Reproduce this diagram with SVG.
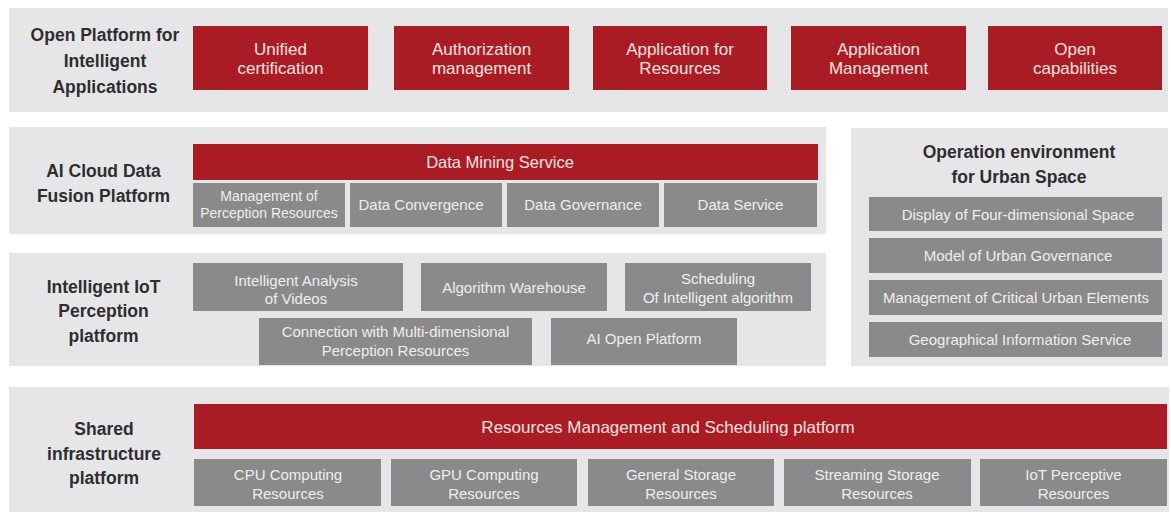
<svg xmlns="http://www.w3.org/2000/svg" width="1171" height="515" viewBox="0 0 1171 515">
<style>
.bg{fill:#ffffff}
.panel{fill:#e6e6e8}
.red{fill:#aa1c23}
.gray{fill:#8a8a8a}
.lbl{font-family:"Liberation Sans",Arial,sans-serif;font-weight:bold;font-size:17.5px;fill:#2e2e2e;text-anchor:middle}
.rt{font-family:"Liberation Sans",Arial,sans-serif;font-size:17px;fill:#f6e2e2;text-anchor:middle}
.gt{font-family:"Liberation Sans",Arial,sans-serif;font-size:15px;fill:#eeeeee;text-anchor:middle}
</style>
<rect class="bg" x="0" y="0" width="1171" height="515"/>

<g id="panel-open-platform">
<rect class="panel" x="9" y="8" width="1159" height="104"/>
<text class="lbl" x="105" y="41">Open Platform for</text>
<text class="lbl" x="105" y="67">Intelligent</text>
<text class="lbl" x="105" y="93">Applications</text>
</g>
<g id="n-unified"><rect class="red" x="193" y="26" width="175" height="64"/><text class="rt" x="280.5" y="55">Unified</text><text class="rt" x="280.5" y="74">certification</text></g>
<g id="n-authorization"><rect class="red" x="394" y="26" width="175" height="64"/><text class="rt" x="481.5" y="55">Authorization</text><text class="rt" x="481.5" y="74">management</text></g>
<g id="n-app-resources"><rect class="red" x="593" y="26" width="174" height="64"/><text class="rt" x="680" y="55">Application for</text><text class="rt" x="680" y="74">Resources</text></g>
<g id="n-app-management"><rect class="red" x="791" y="26" width="175" height="64"/><text class="rt" x="878.5" y="55">Application</text><text class="rt" x="878.5" y="74">Management</text></g>
<g id="n-open-capabilities"><rect class="red" x="988" y="26" width="174" height="64"/><text class="rt" x="1075" y="55">Open</text><text class="rt" x="1075" y="74">capabilities</text></g>

<g id="panel-ai-cloud">
<rect class="panel" x="9" y="127" width="817" height="107"/>
<text class="lbl" x="103.5" y="177">AI Cloud Data</text>
<text class="lbl" x="103.5" y="202">Fusion Platform</text>
</g>
<g id="n-data-mining"><rect class="red" x="193" y="144" width="625" height="36"/><text class="rt" x="500" y="168" style="font-size:16.5px">Data Mining Service</text></g>
<g id="n-mgmt-perception"><rect class="gray" x="193" y="183" width="152" height="44"/><text class="gt" x="269" y="201" style="font-size:14px">Management of</text><text class="gt" x="269" y="218" style="font-size:14px">Perception Resources</text></g>
<g id="n-data-convergence"><rect class="gray" x="350" y="183" width="152" height="44"/><text class="gt" x="421" y="210">Data Convergence</text></g>
<g id="n-data-governance"><rect class="gray" x="507" y="183" width="152" height="44"/><text class="gt" x="583" y="210">Data Governance</text></g>
<g id="n-data-service"><rect class="gray" x="664" y="183" width="153" height="44"/><text class="gt" x="740.5" y="210">Data Service</text></g>

<g id="panel-iot">
<rect class="panel" x="9" y="253" width="817" height="113"/>
<text class="lbl" x="103.5" y="292.5">Intelligent IoT</text>
<text class="lbl" x="103.5" y="317">Perception</text>
<text class="lbl" x="103.5" y="341.5">platform</text>
</g>
<g id="n-video-analysis"><rect class="gray" x="193" y="263" width="210" height="48"/><text class="gt" x="296" y="286">Intelligent Analysis</text><text class="gt" x="296" y="304">of Videos</text></g>
<g id="n-algorithm-warehouse"><rect class="gray" x="421" y="263" width="186" height="48"/><text class="gt" x="514" y="293">Algorithm Warehouse</text></g>
<g id="n-scheduling"><rect class="gray" x="625" y="263" width="186" height="48"/><text class="gt" x="718" y="284">Scheduling</text><text class="gt" x="718" y="303">Of Intelligent algorithm</text></g>
<g id="n-connection"><rect class="gray" x="259" y="318" width="273" height="47"/><text class="gt" x="395.5" y="337">Connection with Multi-dimensional</text><text class="gt" x="395.5" y="356">Perception Resources</text></g>
<g id="n-ai-open"><rect class="gray" x="551" y="318" width="186" height="47"/><text class="gt" x="644" y="344">AI Open Platform</text></g>

<g id="panel-urban">
<rect class="panel" x="851" y="128" width="317" height="238"/>
<text class="lbl" x="1019" y="158">Operation environment</text>
<text class="lbl" x="1019" y="183">for Urban Space</text>
</g>
<g id="n-display-4d"><rect class="gray" x="869" y="197" width="293" height="34"/><text class="gt" x="1018" y="219.5">Display of Four-dimensional Space</text></g>
<g id="n-urban-governance"><rect class="gray" x="869" y="238" width="293" height="35"/><text class="gt" x="1018" y="261">Model of Urban Governance</text></g>
<g id="n-critical-elements"><rect class="gray" x="869" y="280" width="293" height="35"/><text class="gt" x="1016" y="303">Management of Critical Urban Elements</text></g>
<g id="n-geo-info"><rect class="gray" x="869" y="322" width="293" height="35"/><text class="gt" x="1020" y="345">Geographical Information Service</text></g>

<g id="panel-shared">
<rect class="panel" x="9" y="387" width="1160" height="125"/>
<text class="lbl" x="104" y="435">Shared</text>
<text class="lbl" x="104" y="459.5">infrastructure</text>
<text class="lbl" x="104" y="484">platform</text>
</g>
<g id="n-resources-mgmt"><rect class="red" x="194" y="404" width="973" height="45"/><text class="rt" x="668" y="432.5">Resources Management and Scheduling platform</text></g>
<g id="n-cpu"><rect class="gray" x="194" y="459" width="187" height="47"/><text class="gt" x="288" y="480">CPU Computing</text><text class="gt" x="288" y="498.5">Resources</text></g>
<g id="n-gpu"><rect class="gray" x="391" y="459" width="186" height="47"/><text class="gt" x="484" y="480">GPU Computing</text><text class="gt" x="484" y="498.5">Resources</text></g>
<g id="n-general-storage"><rect class="gray" x="588" y="459" width="186" height="47"/><text class="gt" x="681" y="480">General Storage</text><text class="gt" x="681" y="498.5">Resources</text></g>
<g id="n-streaming-storage"><rect class="gray" x="784" y="459" width="187" height="47"/><text class="gt" x="877" y="480">Streaming Storage</text><text class="gt" x="877" y="498.5">Resources</text></g>
<g id="n-iot-perceptive"><rect class="gray" x="980" y="459" width="187" height="47"/><text class="gt" x="1073.5" y="480">IoT Perceptive</text><text class="gt" x="1073.5" y="498.5">Resources</text></g>

<g id="connectors"></g>
</svg>
